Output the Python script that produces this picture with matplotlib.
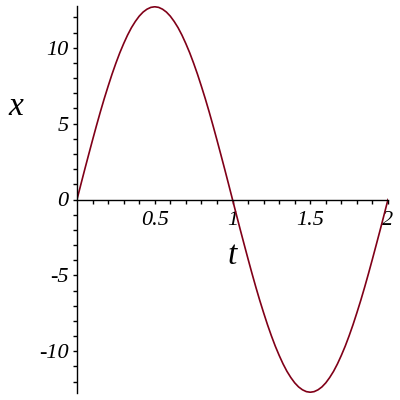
import matplotlib
matplotlib.use("Agg")
import matplotlib.pyplot as plt
import numpy as np

# values, t step 0.025
t = [round(0.025 * i, 3) for i in range(81)]
x = [0.00, 1.00, 1.99, 2.96, 3.92, 4.86, 5.77, 6.64, 7.46, 8.25,
     8.98, 9.66, 10.27, 10.83, 11.32, 11.73, 12.08, 12.35, 12.54, 12.66,
     12.70, 12.66, 12.54, 12.35, 12.08, 11.73, 11.32, 10.83, 10.27, 9.66,
     8.98, 8.25, 7.46, 6.64, 5.77, 4.86, 3.92, 2.96, 1.99, 1.00,
     0.00, -1.00, -1.99, -2.96, -3.92, -4.86, -5.77, -6.64, -7.46, -8.25,
     -8.98, -9.66, -10.27, -10.83, -11.32, -11.73, -12.08, -12.35, -12.54, -12.66,
     -12.70, -12.66, -12.54, -12.35, -12.08, -11.73, -11.32, -10.83, -10.27, -9.66,
     -8.98, -8.25, -7.46, -6.64, -5.77, -4.86, -3.92, -2.96, -1.99, -1.00, 0.00]

xticks = [0.5, 1, 1.5, 2]
xticklabels = ["0.5", "1", "1.5", "2"]
yticks = [-10, -5, 0, 5, 10]
yticklabels = ["-10", "-5", "0", "5", "10"]

plt.rcParams['axes.unicode_minus'] = False
font = dict(family='Liberation Serif', style='italic')

fig = plt.figure(figsize=(4, 4), dpi=100)
ax = fig.add_axes([77/400, 7/400, 311/400, 387/400])

ax.plot(t, x, color='#800018', lw=1.2)
ax.set_xlim(0, 2)
ax.set_ylim(-12.75, 12.75)

ax.spines['top'].set_visible(False)
ax.spines['right'].set_visible(False)
ax.spines['bottom'].set_position(('data', 0))
ax.spines['left'].set_position(('data', 0))
for s in ['bottom', 'left']:
    ax.spines[s].set_linewidth(1.0)

ax.set_xticks(xticks)
ax.set_xticklabels(xticklabels, fontdict=font, fontsize=16)
ax.set_xticks(np.arange(0.1, 2.0, 0.1), minor=True)
ax.set_yticks(yticks)
ax.set_yticklabels(yticklabels, fontdict=font, fontsize=16)
ax.set_yticks([v for v in range(-12, 13) if v % 5 != 0], minor=True)
ax.tick_params(which='both', direction='out', length=3, width=1)
ax.tick_params(axis='x', which='major', pad=5)
ax.tick_params(axis='y', which='major', pad=3)

fig.text(16/400, 1 - 107/400, 'x', ha='center', va='center', fontsize=24, **font)
fig.text(232/400, 1 - 256/400, 't', ha='center', va='center', fontsize=24, **font)

fig.savefig('out.png', dpi=100)
